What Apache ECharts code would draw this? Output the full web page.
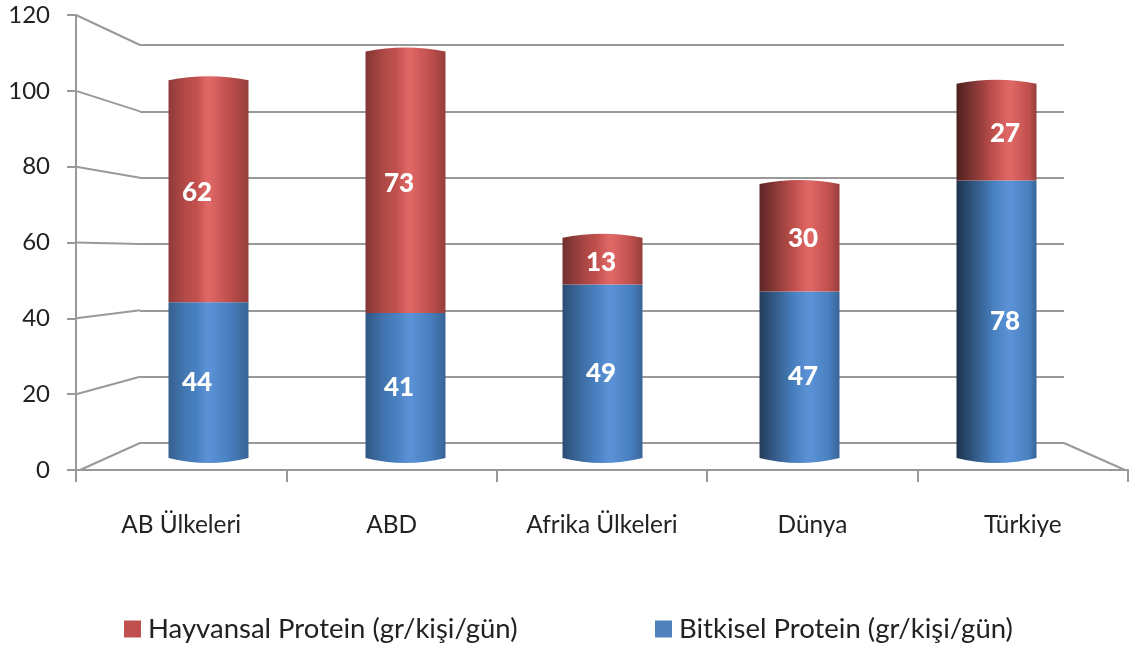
<!DOCTYPE html>
<html>
<head>
<meta charset="utf-8">
<style>html,body{margin:0;padding:0;background:#fff}#c{width:1136px;height:648px}</style>
<script src="https://cdn.jsdelivr.net/npm/echarts@6/dist/echarts.min.js"></script>
</head>
<body>
<div id="c"></div>
<script>
const categories = ['AB Ülkeleri', 'ABD', 'Afrika Ülkeleri', 'Dünya', 'Türkiye'];
const animalProtein = [62, 73, 13, 30, 27];
const plantProtein = [44, 41, 49, 47, 78];
const animalName = 'Hayvansal Protein (gr/kişi/gün)';
const plantName = 'Bitkisel Protein (gr/kişi/gün)';
const yTicks = [0, 20, 40, 60, 80, 100, 120];

// Lighting of each cylinder: where the highlight falls and how dark the left edge is
const highlightPos = [0.5, 0.55, 0.6, 0.62, 0.66];
const leftEdgeDark = [0.74, 0.68, 0.6, 0.48, 0.4];
const redBase = [192, 80, 77], redLight = [222, 102, 100];
const blueBase = [72, 128, 192], blueLight = [90, 144, 212];

const FONT = 'Lato';
const GRID = '#999999';
const MAIN = {left: 76, top: 15, width: 1052, height: 455};
const WALL = {left: 140, top: 45, width: 924, height: 398};
const BARS = {left: 110, top: 30, width: 985, height: 430};
const LABELS = {left: 96, top: 30, width: 1010, height: 430};

function rgb(c, k) { return 'rgb(' + c.map(v => Math.round(v * k)).join(',') + ')'; }
function sideGradient(i, base, light) {
  const h = highlightPos[i], d = leftEdgeDark[i];
  return new echarts.graphic.LinearGradient(0, 0, 1, 0, [
    {offset: 0, color: rgb(base, d)},
    {offset: h * 0.45, color: rgb(base, (d + 1) / 2 + 0.08)},
    {offset: h * 0.7, color: rgb(base, 1)},
    {offset: h - 0.03, color: rgb(light, 1)},
    {offset: h + 0.03, color: rgb(light, 1)},
    {offset: Math.min(h + 0.25, 0.94), color: rgb(base, 1)},
    {offset: 1, color: rgb(base, 0.78)}
  ]);
}

function cylinder(base, light, capTop, capBottom, bottomInset) {
  return function (params, api) {
    const i = api.value(0);
    const low = api.coord([i, api.value(1)]);
    const high = api.coord([i, api.value(2)]);
    const w = api.size([1, 0])[0] * 0.406;
    const l = low[0] - w / 2, r = low[0] + w / 2;
    const by = low[1] - bottomInset;
    const path =
      'M' + l + ' ' + high[1] +
      ' Q' + low[0] + ' ' + (high[1] - capTop * 2) + ' ' + r + ' ' + high[1] +
      ' L' + r + ' ' + by +
      ' Q' + low[0] + ' ' + (by + capBottom * 2) + ' ' + l + ' ' + by + ' Z';
    return {
      type: 'path',
      shape: {pathData: path},
      style: {fill: sideGradient(i, base, light), stroke: null}
    };
  };
}

const plantData = categories.map((c, i) => [i, 0, plantProtein[i]]);
const animalData = categories.map((c, i) => [i, plantProtein[i], plantProtein[i] + animalProtein[i]]);
const labelData = [];
categories.forEach((c, i) => {
  labelData.push([i, plantProtein[i] / 2, plantProtein[i]]);
  labelData.push([i, plantProtein[i] + animalProtein[i] / 2, animalProtein[i]]);
});

const chart = echarts.init(document.getElementById('c'), null, {renderer: 'canvas'});
chart.setOption({
  animation: false,
  backgroundColor: '#fff',
  textStyle: {fontFamily: FONT},
  grid: [
    Object.assign({containLabel: false}, MAIN),
    Object.assign({containLabel: false}, WALL),
    Object.assign({containLabel: false}, BARS),
    Object.assign({containLabel: false}, LABELS)
  ],
  legend: [
    {data: [animalName], left: 119, top: 610, itemWidth: 17, itemHeight: 17, itemGap: 0, icon: 'rect',
     textStyle: {fontFamily: FONT, fontSize: 27.5, color: '#222', padding: [0, 0, 0, 2]}},
    {data: [plantName], left: 650, top: 610, itemWidth: 17, itemHeight: 17, itemGap: 0, icon: 'rect',
     textStyle: {fontFamily: FONT, fontSize: 27.5, color: '#222', padding: [0, 0, 0, 2]}}
  ],
  xAxis: [
    {gridIndex: 0, type: 'category', data: categories, boundaryGap: true,
     axisLine: {show: true, lineStyle: {color: GRID, width: 2}},
     axisTick: {show: true, length: 12, inside: false, alignWithLabel: false, lineStyle: {color: GRID, width: 2}},
     axisLabel: {interval: 0, margin: 43, fontFamily: FONT, fontSize: 24.4, color: '#222'}},
    {gridIndex: 1, type: 'value', show: false},
    {gridIndex: 2, type: 'category', data: categories, show: false},
    {gridIndex: 3, type: 'category', data: categories, show: false}
  ],
  yAxis: [
    {gridIndex: 0, type: 'value', min: 0, max: 120, interval: 20,
     axisLine: {show: true, lineStyle: {color: GRID, width: 2}},
     axisTick: {show: true, length: 9, lineStyle: {color: GRID, width: 2}},
     axisLabel: {margin: 26, fontFamily: FONT, fontSize: 24, color: '#222', padding: [3, 0, 0, 0]},
     splitLine: {show: false}},
    {gridIndex: 1, type: 'value', min: 0, max: 120, interval: 20,
     axisLine: {show: false}, axisTick: {show: false}, axisLabel: {show: false},
     splitLine: {show: true, lineStyle: {color: GRID, width: 2}}},
    {gridIndex: 2, type: 'value', min: 0, max: 120, interval: 20, show: false, splitLine: {show: false}},
    {gridIndex: 3, type: 'value', min: 0, max: 120, interval: 20, show: false, splitLine: {show: false}}
  ],
  series: [
    {name: plantName, type: 'custom', xAxisIndex: 2, yAxisIndex: 2, z: 5,
     itemStyle: {color: '#4f81bd'}, data: plantData,
     renderItem: cylinder(blueBase, blueLight, 0, 5, 2)},
    {name: animalName, type: 'custom', xAxisIndex: 2, yAxisIndex: 2, z: 6,
     itemStyle: {color: '#c0504d'}, data: animalData,
     renderItem: cylinder(redBase, redLight, 4, 0, 0)},
    {name: 'values', type: 'scatter', xAxisIndex: 3, yAxisIndex: 3, z: 7,
     symbolSize: 1, itemStyle: {color: 'rgba(0,0,0,0)', opacity: 1},
     data: labelData, encode: {x: 0, y: 1},
     label: {show: true, position: 'inside', offset: [0, 1], formatter: p => String(p.value[2]),
             fontFamily: FONT, fontWeight: 900, fontSize: 26, color: '#ffffff', opacity: 1}}
  ]
});

// Side-wall lines joining the front axis to the back wall, from the axes' own scales
function wallLines() {
  const lines = [];
  const line = pts => ({type: 'polyline', z: 1, silent: true,
    shape: {points: pts}, style: {stroke: GRID, lineWidth: 2, fill: null}});
  yTicks.forEach(v => {
    const front = chart.convertToPixel({yAxisIndex: 0}, v);
    const back = chart.convertToPixel({yAxisIndex: 1}, v);
    lines.push(line([[v === 0 ? MAIN.left + 4 : MAIN.left, front], [WALL.left, back]]));
  });
  const f0 = chart.convertToPixel({yAxisIndex: 0}, 0);
  const b0 = chart.convertToPixel({yAxisIndex: 1}, 0);
  lines.push(line([[WALL.left + WALL.width, b0], [MAIN.left + MAIN.width - 3, f0]]));
  return lines;
}
chart.setOption({graphic: {elements: wallLines()}});
</script>
</body>
</html>
